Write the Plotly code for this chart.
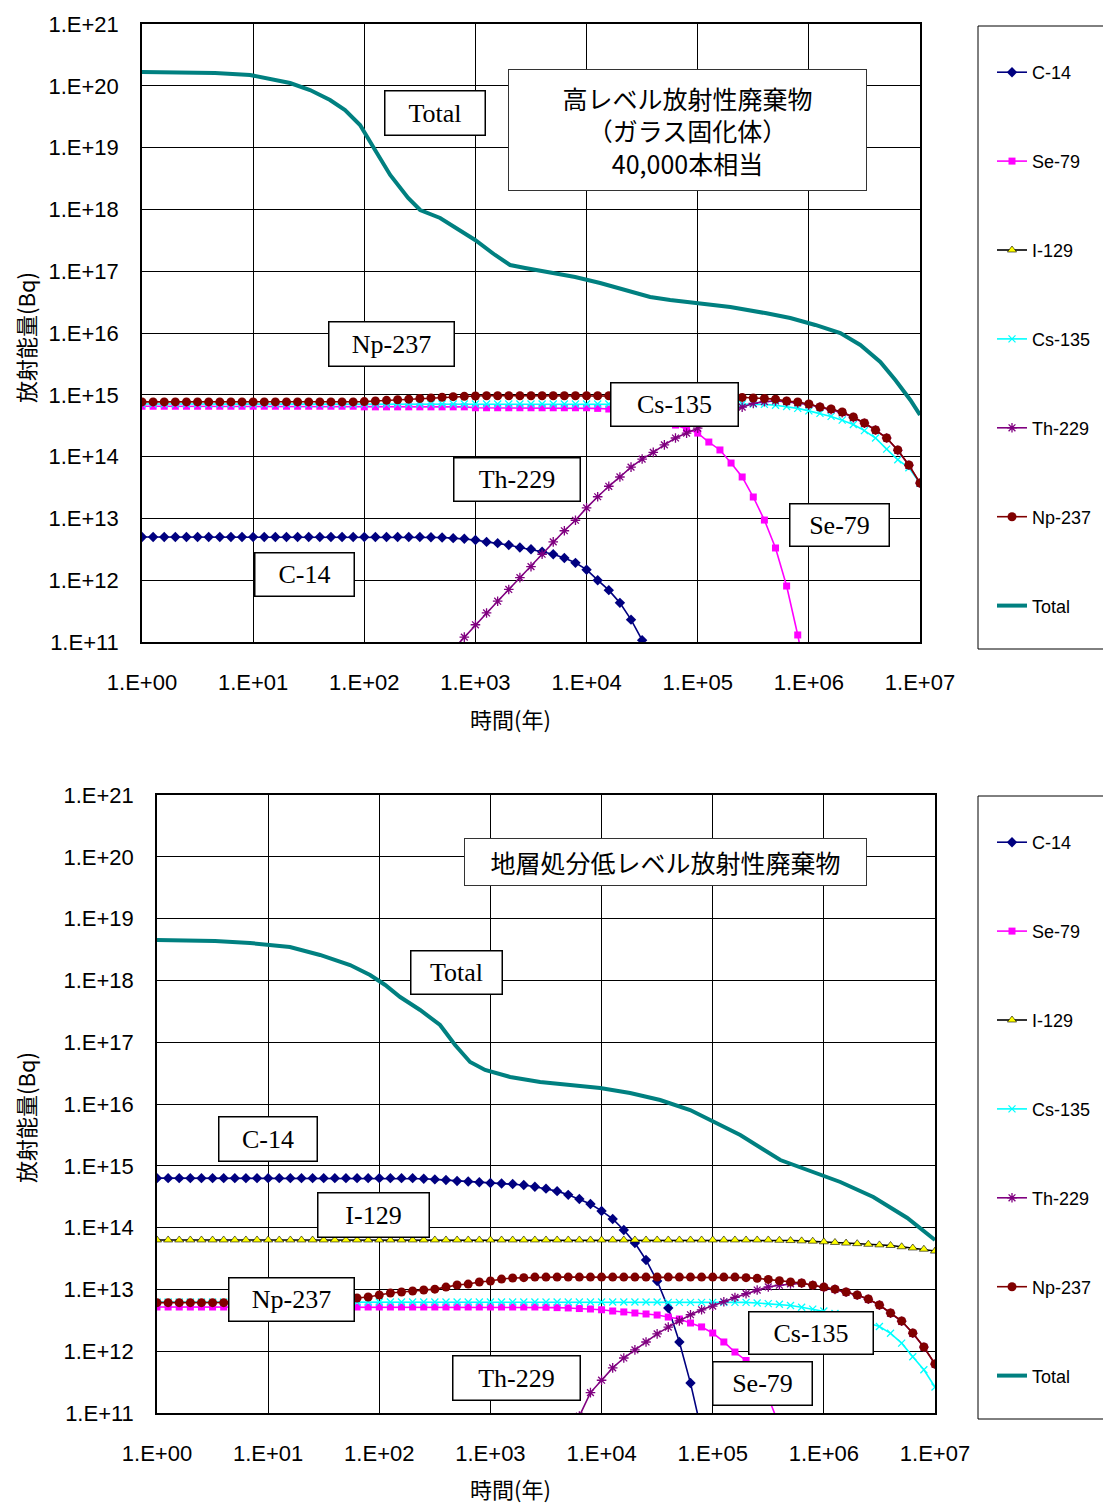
import plotly.graph_objects as go

W, H = 1103, 1505

# time grid: 10 points per decade (years)
MANTISSA = [1.0, 1.259, 1.585, 1.995, 2.512, 3.162, 3.981, 5.012, 6.31, 7.943]
YEARS = [m * 10 ** d for d in range(7) for m in MANTISSA] + [1e7]

Y_TICKS = [1e11, 1e12, 1e13, 1e14, 1e15, 1e16, 1e17, 1e18, 1e19, 1e20, 1e21]
Y_TICKTEXT = ["1.E+11", "1.E+12", "1.E+13", "1.E+14", "1.E+15", "1.E+16",
              "1.E+17", "1.E+18", "1.E+19", "1.E+20", "1.E+21"]
X_TICKS = [1, 10, 100, 1e3, 1e4, 1e5, 1e6, 1e7]
X_TICKTEXT = ["1.E+00", "1.E+01", "1.E+02", "1.E+03", "1.E+04", "1.E+05", "1.E+06", "1.E+07"]

SERIES = ["C-14", "Se-79", "I-129", "Cs-135", "Th-229", "Np-237", "Total"]

# ---------------- top chart: HLW (vitrified), 40,000 canisters ----------------
TOP_C14 = [
    5.0e12, 5.0e12, 5.0e12, 5.0e12, 5.0e12, 5.0e12, 5.0e12, 5.0e12, 5.0e12, 5.0e12,
    5.0e12, 5.0e12, 5.0e12, 5.0e12, 5.0e12, 5.0e12, 5.0e12, 5.0e12, 5.0e12, 5.0e12,
    5.0e12, 5.0e12, 5.0e12, 5.0e12, 5.0e12, 5.0e12, 4.95e12, 4.9e12, 4.79e12, 4.68e12,
    4.47e12, 4.17e12, 3.98e12, 3.72e12, 3.39e12, 3.16e12, 2.88e12, 2.63e12, 2.29e12, 1.91e12,
    1.48e12, 1.0e12, 6.9e11, 4.3e11, 2.3e11, 1.07e11, 4.0e10]
TOP_SE79 = [
    6.53e14, 6.53e14, 6.53e14, 6.53e14, 6.53e14, 6.53e14, 6.53e14, 6.53e14, 6.53e14, 6.53e14,
    6.53e14, 6.53e14, 6.53e14, 6.53e14, 6.53e14, 6.53e14, 6.53e14, 6.53e14, 6.53e14, 6.53e14,
    6.38e14, 6.38e14, 6.38e14, 6.38e14, 6.38e14, 6.38e14, 6.38e14, 6.38e14, 6.38e14, 6.38e14,
    6.17e14, 6.17e14, 6.17e14, 6.17e14, 6.17e14, 6.17e14, 6.17e14, 6.17e14, 6.17e14, 6.17e14,
    6.17e14, 6.03e14, 5.89e14, 5.62e14, 5.25e14, 4.79e14, 4.27e14, 3.72e14, 3.24e14, 2.82e14,
    2.40e14, 1.72e14, 1.28e14, 7.87e13, 4.68e13, 2.22e13, 9.4e12, 3.32e12, 8.05e11, 1.30e11,
    1.6e10]
TOP_I129 = [None]
TOP_CS135 = [
    7.08e14, 7.08e14, 7.08e14, 7.08e14, 7.08e14, 7.08e14, 7.08e14, 7.08e14, 7.08e14, 7.08e14,
    7.08e14, 7.08e14, 7.08e14, 7.08e14, 7.08e14, 7.08e14, 7.08e14, 7.08e14, 7.08e14, 7.08e14,
    7.08e14, 7.08e14, 7.08e14, 7.08e14, 7.08e14, 7.08e14, 7.08e14, 7.08e14, 7.08e14, 7.08e14,
    7.08e14, 7.08e14, 7.08e14, 7.08e14, 7.08e14, 7.08e14, 7.08e14, 7.08e14, 7.08e14, 7.08e14,
    7.08e14, 7.08e14, 7.08e14, 7.08e14, 7.08e14, 7.08e14, 7.08e14, 7.08e14, 7.08e14, 7.08e14,
    7.08e14, 7.08e14, 7.08e14, 7.08e14, 7.08e14, 7.08e14, 7.0e14, 6.76e14, 6.46e14, 6.03e14,
    5.5e14, 5.01e14, 4.47e14, 3.89e14, 3.31e14, 2.63e14, 2.0e14, 1.32e14, 8.9e13, 6.6e13,
    3.7e13]
TOP_TH229_START = 28
TOP_TH229 = [
    7.6e10, 1.2e11,
    1.9e11, 2.95e11, 4.57e11, 7.08e11, 1.1e12, 1.66e12, 2.63e12, 4.17e12, 6.31e12, 9.33e12,
    1.48e13, 2.24e13, 3.31e13, 4.68e13, 6.76e13, 9.12e13, 1.17e14, 1.55e14, 2.0e14, 2.4e14,
    2.88e14, 3.63e14, 4.57e14, 5.5e14, 6.31e14, 7.24e14, 7.76e14, 7.94e14, 7.76e14, 7.41e14,
    6.92e14, 6.31e14, 5.75e14, 5.13e14, 4.27e14, 3.47e14, 2.69e14, 2.0e14, 1.26e14, 7.24e13,
    3.72e13]
TOP_NP237 = [
    7.67e14, 7.67e14, 7.67e14, 7.67e14, 7.67e14, 7.67e14, 7.67e14, 7.67e14, 7.67e14, 7.67e14,
    7.67e14, 7.67e14, 7.67e14, 7.67e14, 7.67e14, 7.67e14, 7.67e14, 7.67e14, 7.67e14, 7.67e14,
    7.76e14, 7.94e14, 8.13e14, 8.32e14, 8.51e14, 8.71e14, 8.91e14, 9.12e14, 9.33e14, 9.44e14,
    9.55e14, 9.66e14, 9.66e14, 9.66e14, 9.66e14, 9.66e14, 9.66e14, 9.66e14, 9.66e14, 9.66e14,
    9.66e14, 9.66e14, 9.66e14, 9.66e14, 9.66e14, 9.66e14, 9.66e14, 9.66e14, 9.66e14, 9.66e14,
    9.66e14, 9.55e14, 9.44e14, 9.29e14, 9.08e14, 8.87e14, 8.71e14, 8.51e14, 7.94e14, 7.64e14,
    7.1e14, 6.35e14, 5.89e14, 5.27e14, 4.38e14, 3.5e14, 2.69e14, 2.0e14, 1.28e14, 7.31e13,
    3.74e13]
TOP_TOTAL_YEARS = [1, 4.54, 9.38, 12.8, 21.5, 32.5, 49.2, 67.1, 91.6, 125, 171, 248, 318, 481,
                   728, 993, 1503, 2051, 2800, 4699, 7889, 13240, 22230, 37330, 56490, 105400,
                   196300, 405500, 680700, 1143000, 1919000, 2904000, 4395000, 5998000,
                   8185000, 10000000]
TOP_TOTAL = [1.67e20, 1.61e20, 1.50e20, 1.34e20, 1.11e20, 8.55e19, 5.89e19, 4.06e19, 2.32e19,
             9.14e18, 3.61e18, 1.53e18, 9.77e17, 7.26e17, 4.65e17, 3.2e17, 1.83e17, 1.26e17,
             1.13e17, 9.7e16, 8.05e16, 6.44e16, 4.97e16, 3.83e16, 3.42e16, 3.05e16, 2.63e16,
             2.1e16, 1.75e16, 1.35e16, 1.0e16, 6.4e15, 3.4e15, 1.74e15, 8.24e14, 4.71e14]

# ---------------- bottom chart: LLW for geological disposal ----------------
BOT_C14 = [
    6.31e14, 6.31e14, 6.31e14, 6.31e14, 6.31e14, 6.31e14, 6.31e14, 6.31e14, 6.31e14, 6.31e14,
    6.31e14, 6.31e14, 6.31e14, 6.31e14, 6.31e14, 6.31e14, 6.31e14, 6.31e14, 6.31e14, 6.31e14,
    6.31e14, 6.31e14, 6.31e14, 6.31e14, 6.17e14, 6.03e14, 5.89e14, 5.69e14, 5.56e14, 5.43e14,
    5.27e14, 5.18e14, 5.08e14, 4.9e14, 4.57e14, 4.27e14, 3.89e14, 3.39e14, 2.9e14, 2.41e14,
    1.86e14, 1.38e14, 9.14e13, 5.64e13, 2.99e13, 1.37e13, 5.0e12, 1.41e12, 3.05e11, 5.0e10]
BOT_SE79 = [
    5.19e12, 5.19e12, 5.19e12, 5.19e12, 5.19e12, 5.19e12, 5.19e12, 5.19e12, 5.19e12, 5.19e12,
    5.19e12, 5.19e12, 5.19e12, 5.19e12, 5.19e12, 5.19e12, 5.19e12, 5.19e12, 5.19e12, 5.19e12,
    5.19e12, 5.19e12, 5.19e12, 5.19e12, 5.19e12, 5.19e12, 5.19e12, 5.19e12, 5.19e12, 5.19e12,
    5.19e12, 5.19e12, 5.19e12, 5.19e12, 5.19e12, 5.15e12, 5.07e12, 5.01e12, 4.9e12, 4.82e12,
    4.68e12, 4.47e12, 4.32e12, 4.15e12, 4.0e12, 3.85e12, 3.57e12, 3.32e12, 2.86e12, 2.47e12,
    1.97e12, 1.41e12, 9.7e11, 7.08e11, 3.98e11, 1.78e11, 6.3e10]
BOT_I129 = [
    6.31e13, 6.31e13, 6.31e13, 6.31e13, 6.31e13, 6.31e13, 6.31e13, 6.31e13, 6.31e13, 6.31e13,
    6.31e13, 6.31e13, 6.31e13, 6.31e13, 6.31e13, 6.31e13, 6.31e13, 6.31e13, 6.31e13, 6.31e13,
    6.31e13, 6.31e13, 6.31e13, 6.31e13, 6.31e13, 6.31e13, 6.31e13, 6.31e13, 6.31e13, 6.31e13,
    6.31e13, 6.31e13, 6.31e13, 6.31e13, 6.31e13, 6.31e13, 6.31e13, 6.31e13, 6.31e13, 6.31e13,
    6.31e13, 6.31e13, 6.31e13, 6.31e13, 6.31e13, 6.31e13, 6.31e13, 6.31e13, 6.31e13, 6.31e13,
    6.31e13, 6.31e13, 6.31e13, 6.31e13, 6.31e13, 6.31e13, 6.24e13, 6.17e13, 6.1e13, 6.03e13,
    5.89e13, 5.75e13, 5.62e13, 5.5e13, 5.37e13, 5.25e13, 5.13e13, 4.9e13, 4.68e13, 4.47e13,
    4.17e13]
BOT_CS135 = [
    6.24e12, 6.24e12, 6.24e12, 6.24e12, 6.24e12, 6.24e12, 6.24e12, 6.24e12, 6.24e12, 6.24e12,
    6.24e12, 6.24e12, 6.24e12, 6.24e12, 6.24e12, 6.24e12, 6.24e12, 6.24e12, 6.24e12, 6.24e12,
    6.24e12, 6.24e12, 6.24e12, 6.24e12, 6.24e12, 6.24e12, 6.24e12, 6.24e12, 6.24e12, 6.24e12,
    6.24e12, 6.24e12, 6.24e12, 6.24e12, 6.24e12, 6.24e12, 6.24e12, 6.24e12, 6.24e12, 6.24e12,
    6.24e12, 6.24e12, 6.24e12, 6.24e12, 6.24e12, 6.24e12, 6.17e12, 6.17e12, 6.17e12, 6.17e12,
    6.17e12, 6.17e12, 6.17e12, 6.17e12, 6.03e12, 5.89e12, 5.75e12, 5.5e12, 5.13e12, 4.79e12,
    4.47e12, 4.07e12, 3.63e12, 3.24e12, 2.88e12, 2.51e12, 1.95e12, 1.35e12, 8.13e11, 5.01e11,
    2.63e11]
BOT_TH229_START = 38
BOT_TH229 = [
    8.9e10, 2.14e11,
    3.39e11, 5.37e11, 7.76e11, 1.05e12, 1.41e12, 1.91e12, 2.45e12, 3.09e12, 3.89e12, 4.68e12,
    5.37e12, 6.31e12, 7.41e12, 8.51e12, 9.77e12, 1.1e13, 1.17e13, 1.23e13, 1.26e13, 1.17e13,
    1.08e13, 1.0e13, 9.0e12, 8.04e12, 6.92e12, 5.56e12, 4.12e12, 3.05e12, 1.95e12, 1.16e12,
    6.17e11]
BOT_NP237 = [
    6.1e12, 6.1e12, 6.1e12, 6.1e12, 6.1e12, 6.1e12, 6.1e12, 6.1e12, 6.1e12, 6.1e12,
    6.1e12, 6.1e12, 6.1e12, 6.17e12, 6.31e12, 6.46e12, 6.76e12, 7.0e12, 7.26e12, 7.53e12,
    8.13e12, 8.75e12, 9.08e12, 9.42e12, 9.77e12, 1.01e13, 1.09e13, 1.18e13, 1.22e13, 1.32e13,
    1.37e13, 1.47e13, 1.53e13, 1.55e13, 1.58e13, 1.58e13, 1.58e13, 1.58e13, 1.58e13, 1.58e13,
    1.58e13, 1.58e13, 1.58e13, 1.58e13, 1.58e13, 1.58e13, 1.58e13, 1.58e13, 1.58e13, 1.58e13,
    1.58e13, 1.58e13, 1.58e13, 1.55e13, 1.51e13, 1.45e13, 1.38e13, 1.32e13, 1.27e13, 1.17e13,
    1.09e13, 1.01e13, 9.08e12, 8.13e12, 7.0e12, 5.6e12, 4.15e12, 3.08e12, 1.97e12, 1.17e12,
    6.21e11]
BOT_TOTAL_YEARS = [1, 3.33, 6.87, 15.7, 29.3, 54.6, 82.6, 113, 154, 233, 352, 481, 656, 895,
                   1503, 2800, 5212, 9705, 18070, 33650, 62660, 105400, 177000, 405500,
                   709600, 1406000, 2786000, 5636000, 10000000]
BOT_TOTAL = [4.51e18, 4.34e18, 4.03e18, 3.47e18, 2.58e18, 1.77e18, 1.22e18, 8.43e17, 5.38e17,
             3.32e17, 1.9e17, 9.02e16, 4.79e16, 3.55e16, 2.74e16, 2.27e16, 2.03e16, 1.82e16,
             1.51e16, 1.16e16, 8.0e15, 5.12e15, 3.15e15, 1.24e15, 8.55e14, 5.47e14, 3.13e14,
             1.43e14, 6.3e13]

# ---------------- styling ----------------
STYLE = {
    "C-14": dict(color="#000080", symbol="diamond", size=8),
    "Se-79": dict(color="#FF00FF", symbol="square", size=7),
    "I-129": dict(color="#000000", symbol="triangle-up", size=8, fill="#FFFF00"),
    "Cs-135": dict(color="#00FFFF", symbol="x-thin-open", size=7),
    "Th-229": dict(color="#800080", symbol="asterisk-open", size=8),
    "Np-237": dict(color="#800000", symbol="circle", size=9),
}
TOTAL_COLOR = "#008080"


def px_x(p):
    return p / W


def px_y(p):
    return 1 - p / H


fig = go.Figure()


def add_chart(data, xa, ya, legend):
    for name in SERIES:
        if name == "Total":
            xs, ys = data["Total"]
            fig.add_trace(go.Scatter(
                x=xs, y=ys, name=name, mode="lines", xaxis=xa, yaxis=ya,
                line=dict(color=TOTAL_COLOR, width=4), legend=legend,
                legendgroup=legend + name))
            continue
        start, vals = data[name]
        st = STYLE[name]
        marker = dict(symbol=st["symbol"], size=st["size"], color=st.get("fill", st["color"]))
        if name == "I-129":
            marker["line"] = dict(color="#000000", width=0.6)
        elif st["symbol"].endswith("open"):
            marker["line"] = dict(color=st["color"], width=1.3)
        else:
            marker["line"] = dict(width=0)
        fig.add_trace(go.Scatter(
            x=YEARS[start:start + len(vals)], y=vals, name=name, mode="lines+markers",
            xaxis=xa, yaxis=ya, line=dict(color=st["color"], width=1.6),
            marker=marker, legend=legend, legendgroup=legend + name))


top_data = {
    "C-14": (0, TOP_C14), "Se-79": (0, TOP_SE79), "I-129": (0, TOP_I129),
    "Cs-135": (0, TOP_CS135), "Th-229": (TOP_TH229_START, TOP_TH229),
    "Np-237": (0, TOP_NP237), "Total": (TOP_TOTAL_YEARS, TOP_TOTAL),
}
bot_data = {
    "C-14": (0, BOT_C14), "Se-79": (0, BOT_SE79), "I-129": (0, BOT_I129),
    "Cs-135": (0, BOT_CS135), "Th-229": (BOT_TH229_START, BOT_TH229),
    "Np-237": (0, BOT_NP237), "Total": (BOT_TOTAL_YEARS, BOT_TOTAL),
}
add_chart(top_data, "x", "y", "legend")
add_chart(bot_data, "x2", "y2", "legend2")

tick_font = dict(family="Liberation Sans, Arial, sans-serif", size=22, color="#000")
axis_common = dict(type="log", showgrid=True, gridcolor="#000", gridwidth=1,
                   showline=True, linecolor="#000", linewidth=1.5, mirror=True,
                   ticks="", tickfont=tick_font, zeroline=False, fixedrange=True,
                   automargin=False)

fig.update_layout(
    width=W, height=H, margin=dict(l=0, r=0, t=0, b=0, autoexpand=False),
    paper_bgcolor="white", plot_bgcolor="white", showlegend=True,
    xaxis=dict(axis_common, domain=[px_x(142), px_x(920)], range=[0, 7], anchor="y",
               tickvals=X_TICKS, ticktext=X_TICKTEXT, ticklabelstandoff=20),
    yaxis=dict(axis_common, domain=[px_y(642), px_y(24)], range=[11, 21], anchor="x",
               tickvals=Y_TICKS, ticktext=Y_TICKTEXT, ticklabelstandoff=17),
    xaxis2=dict(axis_common, domain=[px_x(157), px_x(935)], range=[0, 7], anchor="y2",
                tickvals=X_TICKS, ticktext=X_TICKTEXT, ticklabelstandoff=20),
    yaxis2=dict(axis_common, domain=[px_y(1413), px_y(795)], range=[11, 21], anchor="x2",
                tickvals=Y_TICKS, ticktext=Y_TICKTEXT, ticklabelstandoff=17),
)

legend_common = dict(font=dict(family="Liberation Sans, Arial, sans-serif", size=18, color="#000"),
                     bgcolor="rgba(0,0,0,0)", borderwidth=0, tracegroupgap=62.5,
                     xanchor="left", yanchor="top", itemclick=False, itemdoubleclick=False)
fig.update_layout(
    legend=dict(legend_common, x=px_x(992), y=px_y(54)),
    legend2=dict(legend_common, x=px_x(992), y=px_y(824)),
)

# legend frames
for y0, y1 in [(26, 649), (796, 1419)]:
    fig.add_shape(type="rect", xref="paper", yref="paper",
                  x0=px_x(978), x1=px_x(1110), y0=px_y(y1), y1=px_y(y0),
                  line=dict(color="#000", width=1), fillcolor="rgba(0,0,0,0)", layer="below")

serif = dict(family="Liberation Serif, Times New Roman, serif", size=26, color="#000")
cjk = dict(family="Noto Sans CJK JP, sans-serif", size=25, color="#000")

LABELS = [
    ("Total", 384, 485, 91, 136), ("Np-237", 328, 454, 322, 367),
    ("Cs-135", 610, 738, 382, 426), ("Th-229", 453, 580, 458, 502),
    ("Se-79", 789, 889, 503, 546), ("C-14", 254, 354, 552, 596),
    ("Total", 410, 502, 951, 995), ("C-14", 218, 317, 1116, 1161),
    ("I-129", 317, 429, 1192, 1237), ("Np-237", 228, 354, 1277, 1321),
    ("Cs-135", 748, 873, 1311, 1354), ("Th-229", 452, 580, 1355, 1400),
    ("Se-79", 712, 812, 1361, 1405),
]
for text, x0, x1, y0, y1 in LABELS:
    fig.add_annotation(text=text, xref="paper", yref="paper",
                       x=px_x((x0 + x1) / 2), y=px_y((y0 + y1) / 2),
                       xanchor="center", yanchor="middle", showarrow=False,
                       width=x1 - x0 - 2, height=y1 - y0 - 2, borderpad=0,
                       bgcolor="white", bordercolor="#000", borderwidth=1.5, font=serif)

TITLES = [
    ("高レベル放射性廃棄物<br>（ガラス固化体）<br>40,000本相当", 508, 867, 69, 191),
    ("地層処分低レベル放射性廃棄物", 464, 867, 838, 886),
]
for text, x0, x1, y0, y1 in TITLES:
    fig.add_annotation(text=text, xref="paper", yref="paper",
                       x=px_x((x0 + x1) / 2), y=px_y((y0 + y1) / 2),
                       xanchor="center", yanchor="middle", showarrow=False,
                       width=x1 - x0 - 2, height=y1 - y0 - 2, borderpad=0,
                       bgcolor="white", bordercolor="#333", borderwidth=1, font=cjk)

axis_title_font = dict(family="Noto Sans CJK JP, sans-serif", size=22, color="#000")
for cx, cy in [(510, 718), (510, 1488)]:
    fig.add_annotation(text="時間(年)", xref="paper", yref="paper", x=px_x(cx), y=px_y(cy),
                       xanchor="center", yanchor="middle", showarrow=False, font=axis_title_font)
for cx, cy in [(25, 338), (25, 1118)]:
    fig.add_annotation(text="放射能量(Bq)", xref="paper", yref="paper", x=px_x(cx), y=px_y(cy),
                       xanchor="center", yanchor="middle", showarrow=False, textangle=-90,
                       font=axis_title_font)

fig.write_html("out.html", config={"displayModeBar": False},
               post_script="document.body.style.margin='0';")
